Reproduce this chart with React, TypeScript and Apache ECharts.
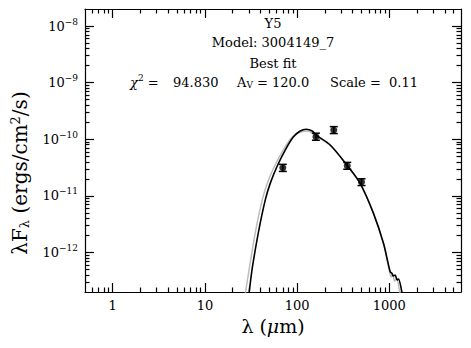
import React, { useEffect, useRef } from 'react';
import * as echarts from 'echarts';

const FONT = '"DejaVu Serif", serif';

// axis ranges
const xMin = 0.5;
const xMax = 6000;
const yMin = 2e-13;
const yMax = 2e-8;

// tick values
const xMajorTicks = [1, 10, 100, 1000];
const xMinorTicks = [
  0.6, 0.7, 0.8, 0.9,
  2, 3, 4, 5, 6, 7, 8, 9,
  20, 30, 40, 50, 60, 70, 80, 90,
  200, 300, 400, 500, 600, 700, 800, 900,
  2000, 3000, 4000, 5000,
];
const yMajorTicks = [1e-12, 1e-11, 1e-10, 1e-9, 1e-8];
const yMinorTicks = [
  3e-13, 4e-13, 5e-13, 6e-13, 7e-13, 8e-13, 9e-13,
  2e-12, 3e-12, 4e-12, 5e-12, 6e-12, 7e-12, 8e-12, 9e-12,
  2e-11, 3e-11, 4e-11, 5e-11, 6e-11, 7e-11, 8e-11, 9e-11,
  2e-10, 3e-10, 4e-10, 5e-10, 6e-10, 7e-10, 8e-10, 9e-10,
  2e-9, 3e-9, 4e-9, 5e-9, 6e-9, 7e-9, 8e-9, 9e-9,
];

// observed photometry
const obsWavelength = [70, 160, 250, 350, 500];
const obsFlux = [3.14e-11, 1.11e-10, 1.45e-10, 3.4e-11, 1.75e-11];
const obsFluxLow = [2.7e-11, 0.96e-10, 1.26e-10, 2.95e-11, 1.52e-11];
const obsFluxHigh = [3.6e-11, 1.28e-10, 1.67e-10, 3.9e-11, 2.0e-11];

// model SEDs
const bestFitWavelength = [28.3, 30.2, 32.8, 37.9, 45.1, 51.1, 60.4, 74.3, 91.4, 108, 125.6, 145.8, 160, 228.6, 346.8, 483, 674, 865, 1023, 1067, 1102, 1158, 1218, 1259, 1369, 1450];
const bestFitFlux = [9.6e-14, 2.0e-13, 5.6e-13, 2.2e-12, 8.4e-12, 1.66e-11, 3.27e-11, 6.44e-11, 1.107e-10, 1.40e-10, 1.50e-10, 1.40e-10, 1.19e-10, 7.9e-11, 3.5e-11, 1.66e-11, 4.9e-12, 1.45e-12, 4.56e-13, 4.3e-13, 3.83e-13, 4.0e-13, 3.25e-13, 3.4e-13, 2.0e-13, 1.2e-13];

const altWavelength = [25.8, 27.6, 30.5, 35.1, 41.8, 47.4, 56.5, 70.7, 88.5, 108, 128.8, 160, 228.6, 346.8, 483, 674, 865, 1000, 1050, 1090, 1140, 1200, 1300, 1400];
const altFlux = [9.6e-14, 2.0e-13, 5.6e-13, 2.2e-12, 8.4e-12, 1.66e-11, 3.27e-11, 6.44e-11, 1.09e-10, 1.33e-10, 1.40e-10, 1.14e-10, 7.75e-11, 3.45e-11, 1.64e-11, 4.9e-12, 1.43e-12, 4.8e-13, 3.7e-13, 4.1e-13, 3.1e-13, 3.5e-13, 2.0e-13, 1.1e-13];

// annotation texts
const titleLines = ['Y5', 'Model: 3004149_7', 'Best fit'];
const chi2Text = '94.830';
const avText = '120.0';
const scaleText = '0.11';

const supRich = {
  b: { fontSize: 13, fontFamily: FONT, color: '#000' },
  s: { fontSize: 9, fontFamily: FONT, color: '#000', padding: [0, 0, 9, 0] },
};

function xAxisDef(position: 'top' | 'bottom', major: boolean, showLabel: boolean) {
  return {
    type: 'log',
    gridIndex: 0,
    position,
    min: xMin,
    max: xMax,
    axisLine: { show: major, onZero: false, lineStyle: { color: '#000', width: 1.2 } },
    axisTick: {
      show: true,
      inside: true,
      length: major ? 9 : 4.5,
      customValues: major ? xMajorTicks : xMinorTicks,
      lineStyle: { color: '#000', width: 1.2 },
    },
    axisLabel: showLabel
      ? {
          show: true,
          customValues: xMajorTicks,
          margin: 7,
          fontSize: 13,
          fontFamily: FONT,
          color: '#000',
          formatter: (v: number) => String(Math.round(v)),
        }
      : { show: false },
    splitLine: { show: false },
    minorTick: { show: false },
  };
}

function yAxisDef(position: 'left' | 'right', major: boolean, showLabel: boolean) {
  return {
    type: 'log',
    gridIndex: 0,
    position,
    min: yMin,
    max: yMax,
    axisLine: { show: major, onZero: false, lineStyle: { color: '#000', width: 1.2 } },
    axisTick: {
      show: true,
      inside: true,
      length: major ? 9 : 4.5,
      customValues: major ? yMajorTicks : yMinorTicks,
      lineStyle: { color: '#000', width: 1.2 },
    },
    axisLabel: showLabel
      ? {
          show: true,
          customValues: yMajorTicks,
          margin: 7,
          color: '#000',
          formatter: (v: number) => `{b|10}{s|−${-Math.round(Math.log10(v))}}`,
          rich: supRich,
        }
      : { show: false },
    splitLine: { show: false },
    minorTick: { show: false },
  };
}

export default function App() {
  const ref = useRef<HTMLDivElement>(null);

  useEffect(() => {
    document.body.style.margin = '0';
    if (!ref.current) return;
    const chart = echarts.init(ref.current, null, { renderer: 'svg' });

    const obsPoints = obsWavelength.map((w, i) => [w, obsFlux[i]]);
    const obsErr = obsWavelength.map((w, i) => [w, obsFluxLow[i], obsFluxHigh[i]]);
    const bestFit = bestFitWavelength.map((w, i) => [w, bestFitFlux[i]]);
    const alt = altWavelength.map((w, i) => [w, altFlux[i]]);

    const textStyleBase = { font: `13px ${FONT}`, fill: '#000' };

    const option: any = {
      animation: false,
      backgroundColor: '#fff',
      grid: { left: 85, top: 9, width: 376, height: 283, containLabel: false },
      xAxis: [
        {
          ...xAxisDef('bottom', true, true),
          name: '{n|λ (}{i|μ}{n|m)}',
          nameLocation: 'middle',
          nameGap: 24,
          nameTextStyle: {
            rich: {
              n: { fontSize: 19, fontFamily: FONT, color: '#000' },
              i: { fontSize: 19, fontFamily: FONT, fontStyle: 'italic', color: '#000' },
            },
          },
        },
        xAxisDef('bottom', false, false),
        xAxisDef('top', true, false),
        xAxisDef('top', false, false),
      ],
      yAxis: [
        yAxisDef('left', true, true),
        yAxisDef('left', false, false),
        yAxisDef('right', true, false),
        yAxisDef('right', false, false),
      ],
      series: [
        {
          type: 'line',
          xAxisIndex: 0,
          yAxisIndex: 0,
          data: alt,
          showSymbol: false,
          smooth: 0.3,
          lineStyle: { color: '#bdbdbd', width: 1.5 },
          z: 2,
        },
        {
          type: 'line',
          xAxisIndex: 0,
          yAxisIndex: 0,
          data: bestFit,
          showSymbol: false,
          smooth: 0.3,
          lineStyle: { color: '#000', width: 1.6 },
          z: 3,
        },
        {
          type: 'custom',
          xAxisIndex: 0,
          yAxisIndex: 0,
          data: obsErr,
          encode: { x: 0, y: [1, 2] },
          z: 4,
          renderItem: (params: any, api: any) => {
            const x = api.value(0);
            const pLo = api.coord([x, api.value(1)]);
            const pHi = api.coord([x, api.value(2)]);
            const hw = 4;
            const st = { stroke: '#000', lineWidth: 1.5 };
            return {
              type: 'group',
              children: [
                { type: 'line', shape: { x1: pLo[0], y1: pLo[1], x2: pHi[0], y2: pHi[1] }, style: st },
                { type: 'line', shape: { x1: pLo[0] - hw, y1: pLo[1], x2: pLo[0] + hw, y2: pLo[1] }, style: st },
                { type: 'line', shape: { x1: pHi[0] - hw, y1: pHi[1], x2: pHi[0] + hw, y2: pHi[1] }, style: st },
              ],
            };
          },
        },
        {
          type: 'scatter',
          xAxisIndex: 0,
          yAxisIndex: 0,
          data: obsPoints,
          symbol: 'circle',
          symbolSize: 7,
          itemStyle: { color: '#000' },
          z: 5,
        },
      ],
      graphic: [
        ...titleLines.map((t, i) => ({
          type: 'text',
          x: 273,
          y: [23, 42, 63][i],
          style: { ...textStyleBase, text: t, align: 'center', verticalAlign: 'middle' },
        })),
        {
          type: 'text',
          x: 130,
          y: 82,
          style: {
            text: '{g|χ}{s|2}{b| =}',
            align: 'left',
            verticalAlign: 'middle',
            rich: {
              ...supRich,
              g: { fontSize: 13, fontFamily: FONT, fontStyle: 'italic', color: '#000' },
            },
          },
        },
        {
          type: 'text',
          x: 173,
          y: 82,
          style: { ...textStyleBase, text: chi2Text, align: 'left', verticalAlign: 'middle' },
        },
        {
          type: 'text',
          x: 237,
          y: 82,
          style: {
            text: `{b|A}{v|V}{b| = ${avText}}`,
            align: 'left',
            verticalAlign: 'middle',
            rich: {
              b: { fontSize: 13, fontFamily: FONT, color: '#000' },
              v: { fontSize: 9, fontFamily: FONT, color: '#000', padding: [6, 0, 0, 0] },
            },
          },
        },
        {
          type: 'text',
          x: 330,
          y: 82,
          style: { ...textStyleBase, text: `Scale =  ${scaleText}`, align: 'left', verticalAlign: 'middle' },
        },
        {
          type: 'text',
          x: 20,
          y: 173,
          rotation: Math.PI / 2,
          style: {
            text: '{n|λF}{u|λ}{n| (ergs/cm}{s|2}{n|/s)}',
            align: 'center',
            verticalAlign: 'middle',
            rich: {
              n: { fontSize: 20, fontFamily: FONT, color: '#000' },
              u: { fontSize: 13, fontFamily: FONT, color: '#000', padding: [8, 0, 0, 0] },
              s: { fontSize: 13, fontFamily: FONT, color: '#000', padding: [0, 0, 10, 0] },
            },
          },
        },
      ],
    };

    chart.setOption(option);
    return () => chart.dispose();
  }, []);

  return <div ref={ref} style={{ width: 471, height: 348 }} />;
}
